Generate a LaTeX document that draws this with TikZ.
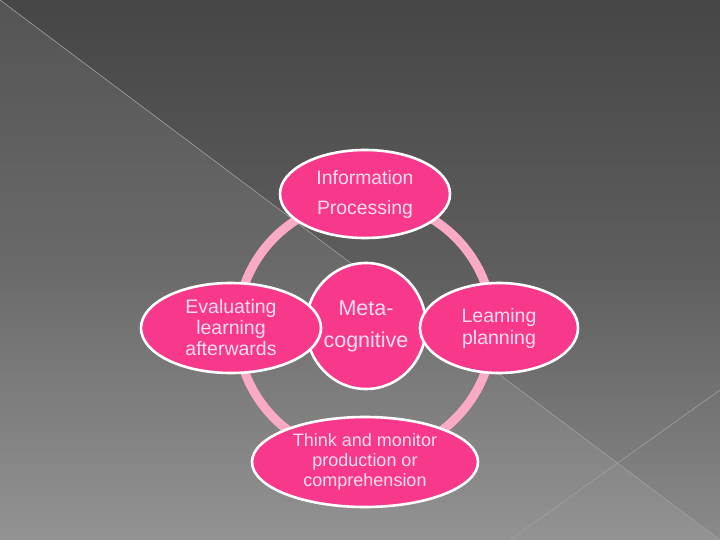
\documentclass[tikz,border=0pt]{standalone}
\usepackage{fontspec}
\setmainfont{Liberation Sans}
\usetikzlibrary{shapes.geometric}
\definecolor{hotpink}{RGB}{248,56,138}
\definecolor{ringpink}{RGB}{250,170,196}
\definecolor{txtpink}{RGB}{255,222,240}
\definecolor{bgtop}{RGB}{70,70,70}
\definecolor{bgmid}{RGB}{94,94,94}
\definecolor{bgbot}{RGB}{138,138,138}
\definecolor{bgline}{RGB}{160,160,160}
\tikzset{
  bubble/.style={ellipse, fill=hotpink, draw=white, line width=2.6pt, inner sep=0pt,
    text=txtpink, align=center},
}
\begin{document}
\begin{tikzpicture}[x=1pt,y=-1pt]
  \useasboundingbox (0,0) rectangle (720,540);
  % background
  \shade[top color=bgtop, bottom color=bgbot, middle color=bgmid] (0,0) rectangle (720,540);
  \fill[white, opacity=0.08] (0,0) -- (720,540) -- (0,540) -- cycle;
  \draw[bgline, line width=0.6pt] (0,0) -- (720,540);
  \draw[bgline, line width=0.6pt] (720,390) -- (510,540);
  % ring
  \coordinate (ringc) at (365,328);
  \draw[ringpink, line width=9pt] (ringc) circle[radius=128];
  % center
  \node[bubble, minimum width=120pt, minimum height=126pt,
        font=\fontsize{21.5}{32}\selectfont] (meta) at (366,326) {Meta-\\cognitive};
  % outer bubbles
  \node[bubble, minimum width=170pt, minimum height=88pt,
        font=\fontsize{19.4}{30}\selectfont] (info) at (365,194) {Information\\Processing};
  \node[bubble, minimum width=158pt, minimum height=90pt,
        font=\fontsize{19.5}{22}\selectfont] (plan) at (499,328) {Leaming\\planning};
  \node[bubble, minimum width=226pt, minimum height=90pt,
        font=\fontsize{18}{20}\selectfont] (think) at (365,462) {Think and monitor\\production or\\comprehension};
  \node[bubble, minimum width=180pt, minimum height=90pt,
        font=\fontsize{19.5}{21}\selectfont] (eval) at (231,328) {Evaluating\\learning\\afterwards};
\end{tikzpicture}
\end{document}
